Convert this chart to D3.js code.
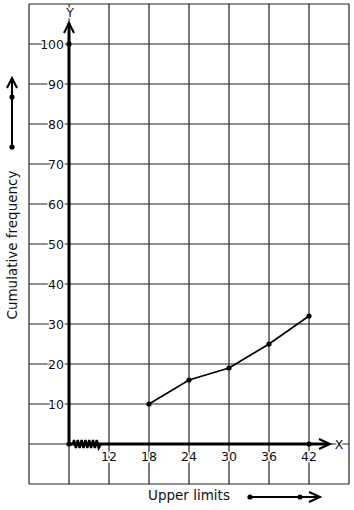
<!DOCTYPE html>
<html>
<head>
<meta charset="utf-8">
<script src="https://cdn.jsdelivr.net/npm/d3@7"></script>
<style>
  body { margin: 0; background: #fff; }
  svg { display: block; }
</style>
</head>
<body>
<div id="chart"></div>
<script>
// upper class limits and their cumulative frequencies
const upperLimits = [18, 24, 30, 36, 42];
const cumFreq = [10, 16, 19, 25, 32];
const xTickLabels = [12, 18, 24, 30, 36, 42];
const yTickLabels = [10, 20, 30, 40, 50, 60, 70, 80, 90, 100];
const gridX = d3.range(0, 49, 6);
const gridY = d3.range(-10, 111, 10);

const W = 354, H = 510;
const svg = d3.select("#chart").append("svg")
    .attr("width", W)
    .attr("height", H)
    .style("font-family", "DejaVu Sans, sans-serif");

// graph paper: 6 units / 10 units per 40px square
const x = d3.scaleLinear().domain([0, 48]).range([29, 349]);
const y = d3.scaleLinear().domain([-10, 110]).range([484, 4]);
const x0 = 6, y0 = 0;

const grid = svg.append("g").attr("stroke", "#222").attr("stroke-width", 1.2);
grid.selectAll("line.v").data(gridX).join("line")
    .attr("x1", d => x(d)).attr("x2", d => x(d))
    .attr("y1", y(-10)).attr("y2", y(110));
grid.selectAll("line.h").data(gridY).join("line")
    .attr("y1", d => y(d)).attr("y2", d => y(d))
    .attr("x1", x(0)).attr("x2", x(48));

// tick labels (white halo breaks the grid lines)
const lbl = svg.append("g").style("font-size", "12.5px").attr("fill", "#111")
    .attr("stroke", "#fff").attr("stroke-width", 3).attr("paint-order", "stroke");
lbl.selectAll("text.y").data(yTickLabels).join("text")
    .attr("x", x(0) + 35).attr("y", d => y(d))
    .attr("dy", "0.36em").attr("text-anchor", "end")
    .text(d => d);
lbl.selectAll("text.x").data(xTickLabels).join("text")
    .attr("x", d => x(d)).attr("y", y(y0) + 17)
    .attr("text-anchor", "middle")
    .text(d => d);
lbl.append("text").attr("x", x(x0) + 1).attr("y", 12).attr("dy", "0.36em")
    .attr("text-anchor", "middle").text("Y");
lbl.append("text").attr("x", 339).attr("y", y(y0)).attr("dy", "0.36em")
    .attr("text-anchor", "middle").text("X");

// axes
const ax = svg.append("g").attr("stroke", "#000").attr("fill", "none");
ax.append("line").attr("x1", x(x0)).attr("x2", x(x0))
    .attr("y1", y(y0)).attr("y2", 23).attr("stroke-width", 3);
ax.append("path").attr("stroke-width", 2)
    .attr("d", `M${x(x0) - 5},${33}L${x(x0)},${23}L${x(x0) + 5},${33}`);
ax.append("line").attr("x1", x(x0)).attr("x2", 328)
    .attr("y1", y(y0)).attr("y2", y(y0)).attr("stroke-width", 3);
ax.append("path").attr("stroke-width", 2)
    .attr("d", `M${319},${y(y0) - 5}L${330},${y(y0)}L${319},${y(y0) + 5}`);

// kink (broken scale) on x-axis
let zz = `M${x(x0) + 4},${y(y0)}`;
for (let i = 0; i < 14; i++) {
    const px = x(x0) + 5 + i * 1.9;
    zz += `L${px},${y(y0) + (i % 2 ? 4 : -4)}`;
}
zz += `L${x(x0) + 32},${y(y0)}`;
ax.append("path").attr("d", zz).attr("stroke-width", 2.4);

// ogive
const pts = upperLimits.map((u, i) => [u, cumFreq[i]]);
svg.append("path").datum(pts)
    .attr("fill", "none").attr("stroke", "#000").attr("stroke-width", 1.7)
    .attr("d", d3.line().x(d => x(d[0])).y(d => y(d[1])));
const extraDots = [[x0, y0], [x0, 100], [42, y0]];
svg.selectAll("circle.p").data(pts.concat(extraDots)).join("circle")
    .attr("cx", d => x(d[0])).attr("cy", d => y(d[1]))
    .attr("r", 2.6).attr("fill", "#000");

// axis titles
svg.append("text")
    .attr("transform", "translate(17,245) rotate(-90)")
    .attr("text-anchor", "middle")
    .style("font-size", "13.5px").attr("fill", "#111")
    .text("Cumulative frequency");
svg.append("text")
    .attr("x", 189).attr("y", 500)
    .attr("text-anchor", "middle")
    .style("font-size", "13.5px").attr("fill", "#111")
    .text("Upper limits");

// direction arrows next to titles
const dir = svg.append("g").attr("stroke", "#000").attr("fill", "none").attr("stroke-width", 2);
dir.append("line").attr("x1", 12).attr("x2", 12).attr("y1", 147).attr("y2", 78);
dir.append("path").attr("d", "M7,88L12,78L17,88");
dir.append("line").attr("x1", 250).attr("x2", 318).attr("y1", 497).attr("y2", 497);
dir.append("path").attr("d", "M309,492L320,497L309,502");
svg.selectAll("circle.d").data([[12, 147], [12, 97], [250, 497], [300, 497]]).join("circle")
    .attr("cx", d => d[0]).attr("cy", d => d[1]).attr("r", 2.6).attr("fill", "#000");
</script>
</body>
</html>
